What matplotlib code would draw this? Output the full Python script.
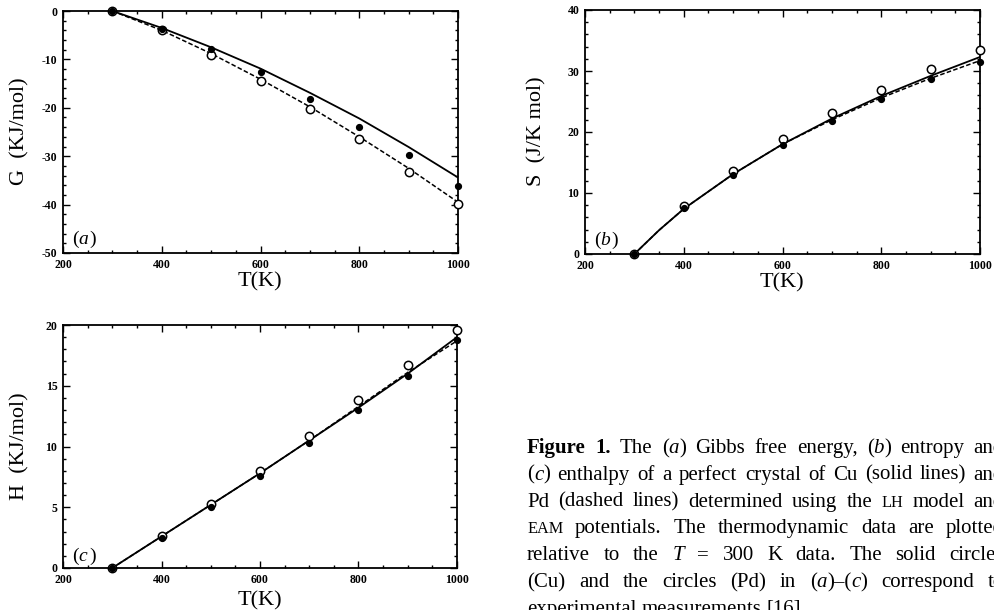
import matplotlib
matplotlib.use('Agg')
import matplotlib.pyplot as plt
from matplotlib.ticker import MultipleLocator, FuncFormatter

plt.rcParams['font.family'] = ['Liberation Serif', 'DejaVu Serif']

# temperature grid used for the model curves and the measurements
T = [300, 400, 500, 600, 700, 800, 900, 1000]
T_S = [300, 350, 400, 500, 600, 700, 800, 900, 1000]

# (a) Gibbs free energy, KJ/mol
G_cu_line = [0, -3.5, -7.5, -11.9, -16.9, -22.2, -28.1, -34.4]
G_pd_line = [0, -4.0, -8.8, -14.1, -19.8, -26.0, -32.5, -39.5]
G_cu_exp = [0, -3.7, -7.9, -12.7, -18.2, -24.0, -29.8, -36.2]
G_pd_exp = [0, -3.9, -9.1, -14.5, -20.3, -26.5, -33.3, -39.9]

# (b) entropy, J/K mol
S_cu_line = [0, 3.9, 7.4, 13.1, 18.0, 22.2, 25.9, 29.2, 32.3]
S_pd_line = [0, 3.9, 7.4, 13.1, 18.0, 22.0, 25.6, 28.8, 31.7]
S_cu_exp = [0, 7.5, 13.0, 17.9, 21.8, 25.4, 28.7, 31.5]
S_pd_exp = [0, 7.9, 13.6, 18.8, 23.1, 26.9, 30.3, 33.4]

# (c) enthalpy, KJ/mol
H_cu_line = [0, 2.6, 5.2, 7.8, 10.5, 13.2, 16.0, 19.0]
H_pd_line = [0, 2.6, 5.2, 7.8, 10.5, 13.3, 16.1, 18.7]
H_cu_exp = [0, 2.5, 5.0, 7.6, 10.3, 13.0, 15.8, 18.8]
H_pd_exp = [0, 2.6, 5.3, 8.0, 10.9, 13.8, 16.7, 19.6]

caption = [
    "#Figure# #1.# The (_a_) Gibbs free energy, (_b_) entropy and",
    "(_c_) enthalpy of a perfect crystal of Cu (solid lines) and",
    "Pd (dashed lines) determined using the ~LH~ model and",
    "~EAM~ potentials. The thermodynamic data are plotted",
    "relative to the _T_ = 300 K data. The solid circles",
    "(Cu) and the circles (Pd) in (_a_)\u2013(_c_) correspond to",
    "experimental measurements [16].",
]

W, H = 994, 610
fig = plt.figure(figsize=(W / 100, H / 100), dpi=100)


def px_axes(l, t, r, b):
    return fig.add_axes([l / W, 1 - b / H, (r - l) / W, (b - t) / H])


def panel(ax, ylim, ymaj, ymin, Tl, cu_line, pd_line, cu_exp, pd_exp, tag, ty):
    ax.plot(Tl, cu_line, color='k', lw=1.3)
    ax.plot(Tl, pd_line, color='k', lw=1.1, ls=(0, (3, 1.5)))
    ax.plot(T, pd_exp, 'o', mfc='white', mec='k', ms=6, mew=1.1, clip_on=False, zorder=3)
    ax.plot(T, cu_exp, 'o', mfc='k', mec='k', ms=4.2, clip_on=False, zorder=4)
    ax.set_xlim(200, 1000)
    ax.set_ylim(*ylim)
    ax.xaxis.set_major_locator(MultipleLocator(200))
    ax.xaxis.set_minor_locator(MultipleLocator(50))
    ax.yaxis.set_major_locator(MultipleLocator(ymaj))
    ax.yaxis.set_minor_locator(MultipleLocator(ymin))
    ax.yaxis.set_major_formatter(FuncFormatter(lambda v, p: "%d" % round(v)))
    ax.tick_params(which='both', direction='in', top=True, right=True, width=1.0)
    ax.tick_params(which='major', length=5, pad=4, labelsize=8.5)
    ax.tick_params(which='minor', length=2.5)
    for lab in ax.get_xticklabels() + ax.get_yticklabels():
        lab.set_fontweight('bold')
    for sp in ax.spines.values():
        sp.set_linewidth(1.3)
    ax.text(0.022, ty, "(", transform=ax.transAxes, fontsize=14, va='center', ha='left')
    ax.text(0.022 + 0.017, ty, tag, transform=ax.transAxes, fontsize=14, style='italic',
            va='center', ha='left')
    ax.text(0.022 + 0.044, ty, ")", transform=ax.transAxes, fontsize=14, va='center', ha='left')


ax_a = px_axes(63, 11, 458, 253)
panel(ax_a, (-50, 0), 10, 2, T, G_cu_line, G_pd_line, G_cu_exp, G_pd_exp, "a", 0.055)
ax_b = px_axes(585, 10, 980, 254)
panel(ax_b, (0, 40), 10, 2, T_S, S_cu_line, S_pd_line, S_cu_exp, S_pd_exp, "b", 0.057)
ax_c = px_axes(63, 325, 457, 568)
panel(ax_c, (0, 20), 5, 1, T, H_cu_line, H_pd_line, H_cu_exp, H_pd_exp, "c", 0.047)


def ftext(x, y, s, **kw):
    return fig.text(x / W, 1 - y / H, s, **kw)


ftext(20, 131, "G  (KJ/mol)", rotation=90, ha='center', va='center', fontsize=16)
ftext(537, 131, "S  (J/K mol)", rotation=90, ha='center', va='center', fontsize=16)
ftext(20, 446, "H  (KJ/mol)", rotation=90, ha='center', va='center', fontsize=16)
ftext(260, 282, "T(K)", ha='center', va='center', fontsize=16)
ftext(782, 283, "T(K)", ha='center', va='center', fontsize=16)
ftext(260, 601, "T(K)", ha='center', va='center', fontsize=16)

# caption, justified word by word
FS = 15
STYLES = {'n': {}, 'i': {'style': 'italic'}, 'b': {'weight': 'bold'}, 's': {'fontsize': FS * 0.78}}


def pieces(word):
    out, style, buf = [], 'n', ''
    marks = {'_': 'i', '#': 'b', '~': 's'}
    for ch in word:
        if ch in marks:
            if buf:
                out.append((buf, style))
                buf = ''
            style = 'n' if style == marks[ch] else marks[ch]
        else:
            buf += ch
    if buf:
        out.append((buf, style))
    return out


renderer = fig.canvas.get_renderer()
X0, X1 = 527, 1004
for k, line in enumerate(caption):
    yb = 453 + 26.8 * k
    objs = []
    for w in line.split():
        ts = []
        for s, st in pieces(w):
            kw = dict(fontsize=FS)
            kw.update(STYLES[st])
            ts.append(ftext(0, yb, s, va='baseline', ha='left', **kw))
        objs.append(ts)
    widths = [[t.get_window_extent(renderer).width for t in ts] for ts in objs]
    total = sum(sum(ws) for ws in widths)
    if k < len(caption) - 1:
        gap = (X1 - X0 - total) / (len(objs) - 1)
    else:
        gap = FS * 0.25 * 100 / 72
    x = X0
    for ts, ws in zip(objs, widths):
        for t, wd in zip(ts, ws):
            t.set_x(x / W)
            x += wd
        x += gap

fig.savefig('out.png', dpi=100)
